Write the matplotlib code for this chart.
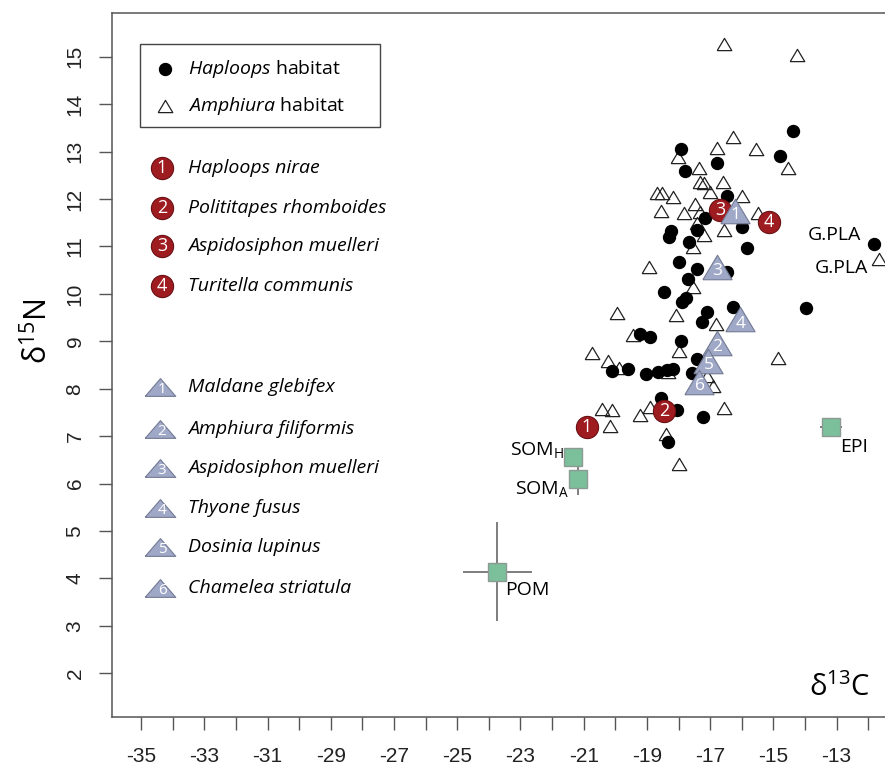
import matplotlib
matplotlib.use('Agg')
import matplotlib.pyplot as plt
from matplotlib import font_manager
from matplotlib.patches import Rectangle

#---    Fonts
avail = {f.name for f in font_manager.fontManager.ttflist}
def pick(*names):
    for n in names:
        if n in avail:
            return n
    return 'DejaVu Sans'

tick_font = pick('Liberation Sans Narrow', 'Liberation Sans')
text_font = pick('Open Sans', 'Noto Sans', 'Lato')
plt.rcParams['mathtext.fontset'] = 'custom'
plt.rcParams['mathtext.rm'] = text_font
plt.rcParams['mathtext.it'] = text_font + ':italic'

#---    Data
# Haploops habitat (black dots)
hap_x = [-17.93, -17.80, -16.79, -16.46, -14.37, -14.80, -17.16, -16.00, -18.25, -17.43,
         -18.29, -17.67, -15.83, -11.82, -17.98, -17.41, -16.48, -17.71, -18.46, -17.77,
         -17.90, -16.27, -13.98, -17.11, -17.27, -19.22, -18.90, -17.92, -17.41, -20.11,
         -19.59, -19.04, -18.64, -18.37, -18.17, -17.56, -18.56, -18.06, -17.24, -18.32]
hap_y = [13.06, 12.60, 12.77, 12.07, 13.43, 12.91, 11.59, 11.42, 11.33, 11.35,
         11.19, 11.09, 10.97, 11.05, 10.68, 10.52, 10.47, 10.31, 10.05, 9.92,
         9.82, 9.73, 9.71, 9.61, 9.40, 9.15, 9.10, 9.01, 8.63, 8.38,
         8.42, 8.30, 8.35, 8.39, 8.41, 8.33, 7.80, 7.55, 7.40, 6.88]

# Amphiura habitat (open triangles)
amp_x = [-16.55, -14.26, -16.29, -16.77, -15.56, -18.01, -17.34, -14.54, -17.32, -17.21,
         -16.60, -17.01, -16.00, -18.69, -18.51, -18.17, -18.56, -17.82, -17.48, -17.32,
         -15.48, -16.55, -17.43, -17.19, -17.53, -18.93, -17.53, -19.96, -18.08, -16.82,
         -19.43, -17.98, -20.73, -20.22, -14.85, -19.88, -18.32, -17.11, -16.90, -20.43,
         -20.11, -19.22, -18.90, -16.55, -20.17, -18.41, -17.98, -11.65]
amp_y = [15.28, 15.04, 13.31, 13.07, 13.05, 12.89, 12.66, 12.65, 12.36, 12.33,
         12.36, 12.15, 12.07, 12.13, 12.12, 12.04, 11.75, 11.70, 11.89, 11.73,
         11.71, 11.35, 11.49, 11.24, 10.99, 10.56, 10.15, 9.60, 9.55, 9.36,
         9.13, 8.80, 8.75, 8.58, 8.65, 8.43, 8.35, 8.27, 8.06, 7.57,
         7.55, 7.45, 7.62, 7.60, 7.22, 7.04, 6.41, 10.73]

# Haploops habitat species (red numbered circles)
hap_species = ['Haploops nirae', 'Polititapes rhomboides', 'Aspidosiphon muelleri', 'Turitella communis']
hap_sp_x = [-20.90, -18.46, -16.69, -15.14]
hap_sp_y = [7.19, 7.54, 11.77, 11.52]

# Amphiura habitat species (numbered triangles)
amp_species = ['Maldane glebifex', 'Amphiura filiformis', 'Aspidosiphon muelleri',
               'Thyone fusus', 'Dosinia lupinus', 'Chamelea striatula']
amp_sp_x = [-16.21, -16.79, -16.79, -16.06, -17.06, -17.34]
amp_sp_y = [11.75, 8.96, 10.56, 9.46, 8.58, 8.15]

# Organic matter sources (squares with error bars)
src_names = ['POM', 'SOM_H', 'SOM_A', 'EPI']
src_x = [-23.73, -21.33, -21.18, -13.19]
src_y = [4.14, 6.57, 6.10, 7.19]
src_xerr = [1.08, 0.05, 0.05, 0.35]
src_yerr = [1.04, 0.05, 0.35, 0.05]

# G.PLA labels (circle and triangle at the far right)
gpla_x = [-11.82, -11.65]
gpla_y = [11.05, 10.73]

x_ticks = list(range(-35, -11))
x_tick_labels = [str(v) if v % 2 else '' for v in x_ticks]
y_ticks = list(range(2, 16))

#---    Styles
red = '#9e1b20'
tri_face = '#9fa8c6'
tri_edge = '#737a94'
green = '#7cbf9b'
spine_col = '#555555'
tri_shape = [(-1, -0.84), (1, -0.84), (0, 0.84), (-1, -0.84)]
tri_flat = [(-1, -0.58), (1, -0.58), (0, 0.58), (-1, -0.58)]
fs_leg = 14

fig = plt.figure(figsize=(8.85, 7.66), dpi=100)
ax = fig.add_axes([0.1262, 0.0636, 0.8738, 0.9198])

ax.plot(amp_x, amp_y, linestyle='none', marker=tri_shape, markersize=10.5,
        markerfacecolor='none', markeredgecolor='#222222', markeredgewidth=0.9, zorder=3)
ax.plot(hap_x, hap_y, linestyle='none', marker='o', markersize=8.6,
        color='black', zorder=4)

ax.plot(hap_sp_x, hap_sp_y, linestyle='none', marker='o', markersize=16,
        markerfacecolor=red, markeredgecolor='#6a1014', markeredgewidth=0.8, zorder=5)
for i in range(len(hap_sp_x)):
    ax.text(hap_sp_x[i], hap_sp_y[i], str(i + 1), color='white', fontsize=13,
            family=text_font, ha='center', va='center', zorder=6)

ax.plot(amp_sp_x, amp_sp_y, linestyle='none', marker=tri_shape, markersize=21,
        markerfacecolor=tri_face, markeredgecolor=tri_edge, markeredgewidth=0.8, zorder=7)
for i in range(len(amp_sp_x)):
    ax.annotate(str(i + 1), (amp_sp_x[i], amp_sp_y[i]), xytext=(0.5, -3), textcoords='offset points',
                color='white', fontsize=12.5, family=text_font, ha='center', va='center', zorder=8)

ax.errorbar(src_x, src_y, xerr=src_xerr, yerr=src_yerr, fmt='none', ecolor='#5a5a5a',
            elinewidth=1.1, capsize=0, zorder=8)
ax.plot(src_x, src_y, linestyle='none', marker='s', markersize=12.5,
        markerfacecolor=green, markeredgecolor='#8b9a92', markeredgewidth=1, zorder=9)

# source labels
lab_kw = dict(textcoords='offset points', fontsize=14, family=text_font, zorder=10)
ax.annotate('POM', (src_x[0], src_y[0]), xytext=(5.5, -13.5), ha='left', va='center', **lab_kw)
ax.annotate(r'SOM$_{\mathrm{H}}$', (src_x[1], src_y[1]), xytext=(-6.5, 1.0), ha='right', va='baseline', **lab_kw)
ax.annotate(r'SOM$_{\mathrm{A}}$', (src_x[2], src_y[2]), xytext=(-6.0, -11.0), ha='right', va='baseline', **lab_kw)
ax.annotate('EPI', (src_x[3], src_y[3]), xytext=(6.5, -14.5), ha='left', va='center', **lab_kw)
ax.annotate('G.PLA', (gpla_x[0], gpla_y[0]), xytext=(-9.5, 6.5), ha='right', va='center', **lab_kw)
ax.annotate('G.PLA', (gpla_x[1], gpla_y[1]), xytext=(-8.0, -6.0), ha='right', va='center', **lab_kw)

#---    Legends (axes fraction)
tr = ax.transAxes
ax.add_patch(Rectangle((0.0366, 0.8378), 0.3104, 0.1178, transform=tr, fill=False,
                       edgecolor='#444444', linewidth=1.0, zorder=10))
ax.plot([0.0689], [0.9200], transform=tr, marker='o', markersize=8.6, color='black', zorder=11)
ax.plot([0.0689], [0.8677], transform=tr, marker=tri_shape, markersize=10.5,
        markerfacecolor='none', markeredgecolor='#222222', markeredgewidth=0.9, zorder=11)
ax.text(0.0987, 0.9200, r'$\it{Haploops}$ habitat', transform=tr, fontsize=fs_leg,
        family=text_font, va='center', zorder=11)
ax.text(0.0987, 0.8677, r'$\it{Amphiura}$ habitat', transform=tr, fontsize=fs_leg,
        family=text_font, va='center', zorder=11)

rows_red = [0.7800, 0.7232, 0.6693, 0.6125]
for i, name in enumerate(hap_species):
    ax.plot([0.0650], [rows_red[i]], transform=tr, marker='o', markersize=16,
            markerfacecolor=red, markeredgecolor='#6a1014', markeredgewidth=0.8, zorder=11)
    ax.text(0.0650, rows_red[i], str(i + 1), transform=tr, color='white', fontsize=13,
            family=text_font, ha='center', va='center', zorder=12)
    ax.text(0.0987, rows_red[i], name, transform=tr, fontsize=fs_leg, style='italic',
            family=text_font, va='center', zorder=11)

rows_tri = [0.4688, 0.4092, 0.3538, 0.2971, 0.2418, 0.1836]
for i, name in enumerate(amp_species):
    ax.plot([0.0625], [rows_tri[i]], transform=tr, marker=tri_flat, markersize=22,
            markerfacecolor=tri_face, markeredgecolor=tri_edge, markeredgewidth=0.8, zorder=11)
    ax.annotate(str(i + 1), (0.0625, rows_tri[i]), xycoords=tr, xytext=(1.5, -2),
                textcoords='offset points', color='white', fontsize=11,
                family=text_font, ha='center', va='center', zorder=12)
    ax.text(0.0987, rows_tri[i], name, transform=tr, fontsize=fs_leg, style='italic',
            family=text_font, va='center', zorder=11)

#---    Axes
ax.set_xlim(-35.93, -11.47)
ax.set_ylim(1.07, 15.93)
ax.set_xticks(x_ticks)
ax.set_xticklabels(x_tick_labels, family=tick_font, fontsize=15, color='#222222')
ax.set_yticks(y_ticks)
ax.set_yticklabels([str(v) for v in y_ticks], family=tick_font, fontsize=15,
                   color='#222222', rotation=90, va='center')
ax.tick_params(axis='both', direction='out', length=9.5, width=1, color=spine_col)
ax.tick_params(axis='x', pad=12)
ax.tick_params(axis='y', pad=10)
for s in ['left', 'bottom', 'top']:
    ax.spines[s].set_color(spine_col)
    ax.spines[s].set_linewidth(1.1)
ax.spines['right'].set_visible(False)

ax.text(0.9806, 0.0302, r'δ$^{13}$C', transform=tr, fontsize=21, family=text_font,
        ha='right', va='baseline')
fig.text(38 / 885, 1 - 331 / 766, r'δ$^{15}$N', fontsize=22, family=text_font,
         rotation=90, ha='center', va='center')

plt.savefig('out.png', dpi=100)
